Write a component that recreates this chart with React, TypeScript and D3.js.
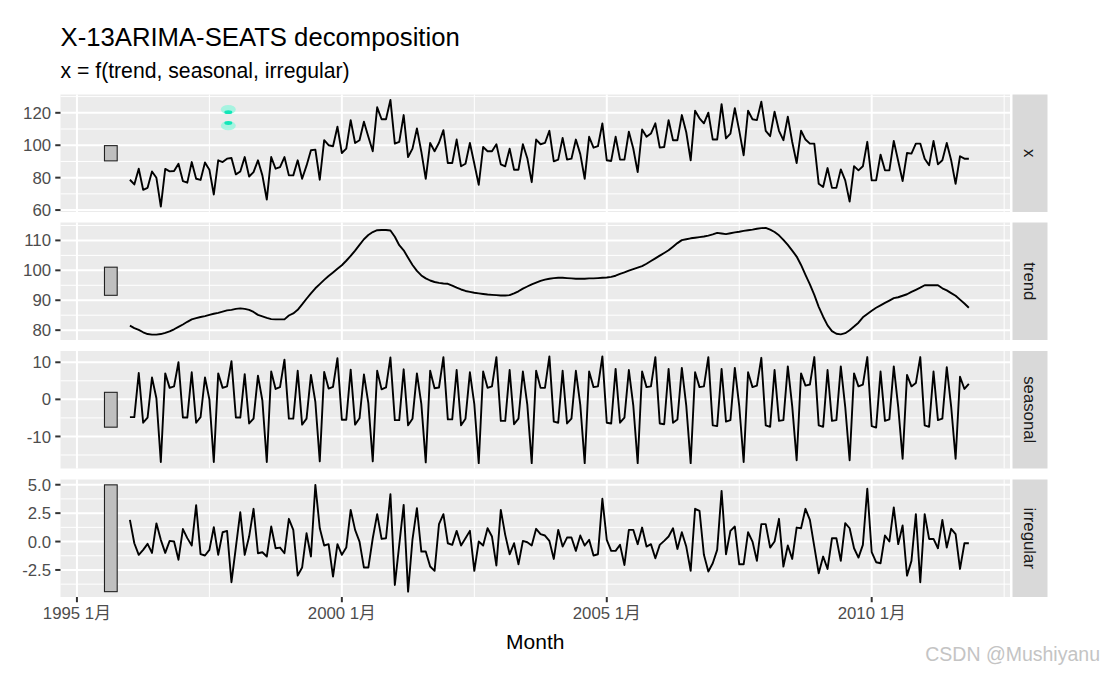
import React from "react";
import * as d3 from "d3";

const START_YEAR = 1996;

const xValues = [
  78.7, 75.8, 85.5, 72.5, 73.7, 83.8, 79.9, 62.1, 85.4, 83.9, 84.1, 88.6,
  77.9, 76.9, 89.6, 79.3, 78.6, 89.4, 84.9, 69.6, 90.7, 89.6, 91.7, 92.1,
  82.0, 83.8, 92.7, 80.7, 83.4, 90.7, 81.4, 66.5, 92.7, 85.5, 86.5, 92.7,
  81.4, 81.4, 90.7, 79.3, 87.4, 96.9, 97.3, 78.7, 103.1, 100.0, 99.4, 111.4,
  95.2, 97.9, 115.5, 101.4, 103.1, 114.5, 105.2, 96.3, 123.4, 116.0, 116.0, 128.0,
  101.0, 102.1, 118.6, 92.7, 97.9, 110.4, 96.0, 79.3, 101.4, 96.3, 101.5, 109.3,
  89.0, 89.0, 103.5, 87.0, 88.6, 101.4, 88.6, 75.6, 98.9, 96.3, 96.3, 100.6,
  88.2, 87.0, 97.9, 84.9, 84.9, 100.6, 92.0, 77.2, 103.5, 100.6, 101.4, 108.9,
  90.1, 91.1, 104.5, 91.1, 91.7, 103.5, 94.5, 79.3, 105.2, 98.5, 99.4, 113.5,
  90.7, 90.3, 105.2, 91.1, 91.1, 108.3, 98.0, 83.4, 109.7, 105.2, 107.2, 113.5,
  98.5, 98.9, 115.5, 103.1, 103.1, 118.6, 108.0, 90.7, 121.3, 116.6, 113.5, 120.1,
  103.5, 103.5, 125.3, 104.2, 107.2, 122.8, 109.0, 93.8, 121.3, 116.0, 115.5, 126.9,
  108.9, 105.6, 120.7, 108.9, 103.1, 117.6, 102.0, 89.0, 108.9, 103.5, 101.0, 101.0,
  76.2, 74.2, 85.9, 73.7, 73.7, 85.1, 78.3, 65.2, 87.1, 84.5, 87.0, 102.1,
  78.3, 78.3, 94.2, 84.5, 84.5, 102.7, 90.3, 77.9, 95.2, 94.8, 101.0, 101.0,
  91.7, 87.6, 102.7, 88.2, 90.7, 101.4, 90.7, 76.2, 93.2, 91.7, 91.7,
];

const trendValues = [
  81.5, 80.7, 80.1, 79.3, 78.7, 78.5, 78.5, 78.7, 79.1, 79.6, 80.3, 81.1,
  81.9, 82.8, 83.6, 84.0, 84.4, 84.7, 85.1, 85.5, 85.8, 86.2, 86.6, 86.8,
  87.1, 87.3, 87.1, 86.8, 86.1, 85.1, 84.6, 84.1, 83.7, 83.6, 83.6, 83.6,
  84.9, 85.6, 86.8, 88.6, 90.5, 92.3, 94.0, 95.4, 96.8, 98.1, 99.3, 100.5,
  101.7, 103.2, 104.8, 106.6, 108.5, 110.4, 111.8, 112.8, 113.4, 113.5, 113.5, 113.3,
  111.2, 108.4, 106.7, 104.2, 101.8, 99.8, 98.3, 97.3, 96.6, 96.1, 95.8, 95.6,
  95.5, 94.9, 94.2, 93.6, 93.1, 92.8, 92.5, 92.3, 92.1, 91.9, 91.8, 91.7,
  91.6, 91.6, 91.7, 92.3, 93.0, 93.9, 94.6, 95.3, 95.9, 96.5, 96.9, 97.2,
  97.4, 97.5, 97.5, 97.4, 97.3, 97.2, 97.2, 97.2, 97.3, 97.3, 97.4, 97.5,
  97.6, 97.8, 98.2, 98.8, 99.3, 99.9, 100.4, 100.9, 101.4, 102.2, 103.1, 104.0,
  104.9, 105.8, 106.7, 107.9, 109.1, 110.1, 110.4, 110.7, 110.9, 111.1, 111.3, 111.6,
  112.0, 112.5, 112.3, 112.1, 112.4, 112.7, 112.9, 113.2, 113.4, 113.6, 113.9, 114.1,
  114.2, 113.6, 112.8, 111.7, 110.2, 108.5, 106.6, 104.6, 101.8, 98.5, 95.3, 91.8,
  87.8, 84.5, 81.6, 79.7, 78.8, 78.6, 79.0, 80.0, 81.2, 82.5, 84.3, 85.4,
  86.5, 87.5, 88.3, 89.1, 89.9, 90.7, 91.0, 91.5, 92.0, 92.8, 93.5, 94.2,
  95.0, 95.0, 95.0, 95.0, 94.0, 93.3, 92.4, 91.5, 90.2, 88.9, 87.5,
];

const seasonalValues = [
  -4.8, -4.8, 7.1, -6.3, -4.9, 5.9, 0.3, -16.9, 7.0, 3.1, 3.5, 10.0,
  -4.9, -4.9, 7.3, -6.3, -4.8, 5.9, 0.0, -16.9, 7.0, 3.1, 3.5, 10.3,
  -4.9, -4.9, 6.8, -6.5, -5.2, 6.4, -0.3, -16.9, 7.5, 2.8, 3.3, 10.7,
  -5.2, -5.2, 7.7, -6.8, -5.2, 6.6, -0.7, -16.7, 7.4, 2.9, 3.4, 11.1,
  -5.5, -5.5, 8.0, -6.8, -5.1, 6.7, -1.0, -16.7, 7.7, 2.7, 3.2, 11.3,
  -5.6, -5.6, 8.1, -7.0, -5.2, 7.0, -1.2, -17.0, 7.7, 3.0, 3.2, 11.4,
  -5.4, -5.4, 7.9, -7.0, -5.2, 7.3, -1.3, -17.2, 7.5, 3.1, 3.5, 11.4,
  -5.8, -5.8, 7.9, -6.7, -5.2, 7.5, -1.4, -17.2, 7.7, 3.1, 3.1, 11.6,
  -6.0, -6.3, 7.7, -6.5, -5.2, 7.7, -1.5, -17.2, 7.5, 3.3, 3.5, 11.6,
  -6.3, -6.5, 8.2, -6.3, -4.9, 7.9, -1.6, -17.2, 7.5, 3.3, 3.5, 11.4,
  -6.5, -6.7, 8.2, -6.3, -5.4, 8.5, -1.7, -17.2, 7.3, 3.3, 3.5, 11.4,
  -7.0, -7.2, 8.2, -6.0, -5.6, 8.5, -1.8, -16.9, 7.3, 3.3, 3.7, 11.2,
  -7.0, -7.4, 7.9, -5.8, -5.6, 8.9, -1.9, -16.4, 7.0, 3.7, 4.0, 11.4,
  -7.0, -7.4, 7.9, -5.8, -5.6, 8.9, -2.0, -16.4, 7.0, 3.5, 4.0, 11.4,
  -7.2, -7.6, 7.5, -5.8, -5.4, 8.9, -2.0, -16.0, 6.6, 3.5, 4.4, 11.4,
  -7.0, -7.4, 7.5, -5.6, -5.2, 8.7, -2.0, -16.0, 6.1, 2.8, 4.2,
];

const irregularValues = [
  1.91, -0.15, -1.17, -0.73, -0.2, -1.0, 1.6, 0.15, -1.0, 0.06, 0.0, -1.6,
  1.1, 0.3, -0.35, 3.2, -1.1, -1.23, -0.73, 1.26, -1.17, 0.82, 0.94, -3.58,
  -0.5, 2.58, -1.17, 0.44, 2.88, -1.03, -0.94, -1.32, 1.32, -0.59, -0.53, -1.03,
  2.0, 1.03, -3.0, -2.29, 0.73, -1.32, 4.99, 1.17, -0.35, -0.23, -3.08, -0.23,
  -1.17, -0.53, 2.79, 1.03, 0.0, -2.29, -2.29, 0.29, 2.41, 0.23, 0.29, 4.17,
  -3.82, -0.3, 3.23, -4.41, 0.2, 2.94, -0.88, -0.88, -2.2, -2.58, 1.53, 2.41,
  -0.15, -0.29, 0.94, -0.35, 0.29, 0.94, -2.58, 0.0, -0.35, 1.17, 0.44, -2.11,
  2.79, 0.59, -1.12, -0.15, -2.0, 0.06, -0.06, -0.35, 1.12, 0.65, 0.53, 0.06,
  -1.53, 1.03, -0.44, 0.35, 0.35, -0.82, 0.53, -0.35, 0.15, -1.23, -1.12, 3.76,
  0.15, -0.82, -0.82, -0.29, -2.06, 1.03, 1.03, -0.23, 1.23, -0.44, -0.23, -1.47,
  -0.29, 0.06, 0.44, 1.17, -0.65, 0.82, -0.44, -2.58, 2.88, 2.7, -1.17, -2.64,
  -1.91, -0.73, 4.46, -1.12, 0.94, 1.32, -2.0, -2.0, 0.82, 0.0, -1.7, 1.53,
  1.53, -0.53, 0.0, 2.0, -2.2, -0.35, -1.53, 1.23, 1.17, 2.88, 1.91, -0.44,
  -2.79, -1.32, -2.41, 0.29, 0.29, -1.7, 1.62, 1.17, -0.59, -1.41, -0.29, 4.64,
  -0.94, -1.82, -1.91, 0.53, 0.0, 3.0, -0.23, 1.41, -3.0, -1.7, 2.41, -3.58,
  2.41, 0.23, 0.23, -0.59, 1.91, -0.53, 1.12, 0.65, -2.41, -0.15, -0.15,
];

const panelNames = ["x", "trend", "seasonal", "irregular"];

const xPanelTicks = [60, 80, 100, 120];
const xPanelTickLabels = ["60", "80", "100", "120"];
const xPanelMinor = [50, 70, 90, 110, 130];
const trendTicks = [80, 90, 100, 110];
const trendTickLabels = ["80", "90", "100", "110"];
const trendMinor = [75, 85, 95, 105, 115];
const seasonalTicks = [-10, 0, 10];
const seasonalTickLabels = ["-10", "0", "10"];
const seasonalMinor = [-15, -5, 5, 15];
const irregularTicks = [-2.5, 0, 2.5, 5];
const irregularTickLabels = ["-2.5", "0.0", "2.5", "5.0"];
const irregularMinor = [-3.75, -1.25, 1.25, 3.75];

const timeTicks = [1995, 2000, 2005, 2010];
const timeTickLabels = ["1995 1月", "2000 1月", "2005 1月", "2010 1月"];
const timeMinor = [1997.5, 2002.5, 2007.5, 2012.5];

const FONT = "'Liberation Sans', Arial, 'Noto Sans CJK SC', sans-serif";

export default function App() {
  const W = 1104;
  const H = 673;
  const panelLeft = 60.5;
  const panelRight = 1010;
  const panelTops = [94.5, 222.5, 351, 479.5];
  const panelH = 117.5;
  const stripX = 1012.5;
  const stripW = 35;
  const tickLen = 5.25;

  const barLeftT = START_YEAR - 0.48;
  const barRightT = START_YEAR - 0.24;

  const xScale = d3.scaleLinear().domain([1994.69, 2012.61]).range([panelLeft, panelRight]);

  const series = [xValues, trendValues, seasonalValues, irregularValues];
  const ticks = [xPanelTicks, trendTicks, seasonalTicks, irregularTicks];
  const tickLabels = [xPanelTickLabels, trendTickLabels, seasonalTickLabels, irregularTickLabels];
  const minors = [xPanelMinor, trendMinor, seasonalMinor, irregularMinor];

  const irrExt = d3.extent(irregularValues) as [number, number];
  const barHalf = (irrExt[1] - irrExt[0]) / 2;

  const panels = series.map((vals, p) => {
    const [mn, mx] = d3.extent(vals) as [number, number];
    const r = mx - mn;
    const top = panelTops[p];
    const y = d3.scaleLinear().domain([mn - 0.05 * r, mx + 0.05 * r]).range([top + panelH, top]);
    const mid = (mn + mx) / 2;
    const line = d3
      .line<number>()
      .x((_, i) => xScale(START_YEAR + i / 12))
      .y((v) => y(v));
    return { vals, y, top, mid, path: line(vals) || "", p };
  });

  const inY = (y: d3.ScaleLinear<number, number>, v: number) => {
    const [a, b] = y.domain();
    return v >= Math.min(a, b) && v <= Math.max(a, b);
  };

  const bottom = panelTops[3] + panelH;

  return (
    <svg width={W} height={H} style={{ display: "block", position: "absolute", left: 0, top: 0, background: "#fff" }} fontFamily={FONT}>
      <rect x={0} y={0} width={W} height={H} fill="#fff" />
      <text x={panelLeft} y={45.5} fontSize={25.7} fill="#000">X-13ARIMA-SEATS decomposition</text>
      <text x={panelLeft} y={78} fontSize={21.2} fill="#000">x = f(trend, seasonal, irregular)</text>

      {panels.map((pn) => (
        <g key={pn.p}>
          <rect x={panelLeft} y={pn.top} width={panelRight - panelLeft} height={panelH} fill="#EBEBEB" />
          {minors[pn.p].filter((v) => inY(pn.y, v)).map((v) => (
            <line key={"hm" + v} x1={panelLeft} x2={panelRight} y1={pn.y(v)} y2={pn.y(v)} stroke="#fff" strokeWidth={1} />
          ))}
          {timeMinor.map((t) => (
            <line key={"vm" + t} x1={xScale(t)} x2={xScale(t)} y1={pn.top} y2={pn.top + panelH} stroke="#fff" strokeWidth={1} />
          ))}
          {ticks[pn.p].map((v) => (
            <line key={"hM" + v} x1={panelLeft} x2={panelRight} y1={pn.y(v)} y2={pn.y(v)} stroke="#fff" strokeWidth={2} />
          ))}
          {timeTicks.map((t) => (
            <line key={"vM" + t} x1={xScale(t)} x2={xScale(t)} y1={pn.top} y2={pn.top + panelH} stroke="#fff" strokeWidth={2} />
          ))}
          <rect
            x={xScale(barLeftT)}
            y={pn.y(pn.mid + barHalf)}
            width={xScale(barRightT) - xScale(barLeftT)}
            height={pn.y(pn.mid - barHalf) - pn.y(pn.mid + barHalf)}
            fill="#BFBFBF"
            stroke="#222"
            strokeWidth={1.1}
          />
          <path d={pn.path} fill="none" stroke="#000" strokeWidth={1.9} strokeLinejoin="round" />
          {ticks[pn.p].map((v, k) => (
            <g key={"yt" + v}>
              <line x1={panelLeft - tickLen} x2={panelLeft} y1={pn.y(v)} y2={pn.y(v)} stroke="#333333" strokeWidth={2} />
              <text x={panelLeft - tickLen - 4.2} y={pn.y(v)} dy="0.36em" textAnchor="end" fontSize={16.8} fill="#4D4D4D">
                {tickLabels[pn.p][k]}
              </text>
            </g>
          ))}
          <rect x={stripX} y={pn.top} width={stripW} height={panelH} fill="#D9D9D9" />
          <text
            transform={`translate(${stripX + stripW / 2},${pn.top + panelH / 2}) rotate(90)`}
            textAnchor="middle"
            dy="0.35em"
            fontSize={16.8}
            fill="#1A1A1A"
          >
            {panelNames[pn.p]}
          </text>
        </g>
      ))}

      {/* stray cyan mark in the reference image */}
      <g>
        <ellipse cx={228.3} cy={109.5} rx={7.5} ry={4.6} fill="#8ff5dc" opacity={0.75} />
        <ellipse cx={228.3} cy={112.2} rx={4} ry={1.9} fill="#12e6b8" />
        <ellipse cx={228.3} cy={125.7} rx={7.5} ry={4.6} fill="#8ff5dc" opacity={0.75} />
        <ellipse cx={228.3} cy={123} rx={4} ry={1.9} fill="#12e6b8" />
      </g>

      {timeTicks.map((t, k) => (
        <g key={"xt" + t}>
          <line x1={xScale(t)} x2={xScale(t)} y1={bottom} y2={bottom + tickLen} stroke="#333333" strokeWidth={2} />
          <text x={xScale(t)} y={618.5} textAnchor="middle" fontSize={16.8} fill="#4D4D4D">
            {timeTickLabels[k]}
          </text>
        </g>
      ))}
      <text x={(panelLeft + panelRight) / 2} y={649} textAnchor="middle" fontSize={21} fill="#000">Month</text>

      <text x={1100} y={661} textAnchor="end" fontSize={19.5} fill="#C4C4C4">CSDN @Mushiyanu</text>
    </svg>
  );
}
